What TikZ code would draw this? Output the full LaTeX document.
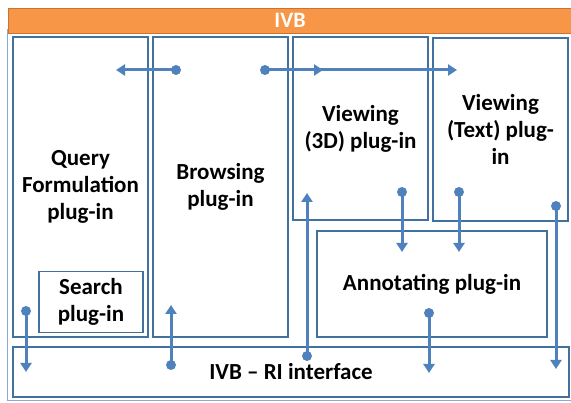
\documentclass[tikz,border=0pt]{standalone}
\usepackage{fontspec}
\setmainfont{Carlito}
\usetikzlibrary{arrows.meta}
\definecolor{ivbblue}{HTML}{4F81BD}
\definecolor{boxblue}{HTML}{41719C}
\definecolor{frameblue}{HTML}{8FAAD2}
\definecolor{ivborange}{HTML}{F79646}
\definecolor{ivbedge}{HTML}{C9732E}
\tikzset{
  plugbox/.style={draw=boxblue,line width=1.5pt,align=center,inner sep=0pt,
    font=\bfseries\fontsize{23}{27}\selectfont},
  flow/.style={ivbblue,line width=3pt,-{Triangle[width=11pt,length=9pt]}},
  dot/.style={circle,fill=ivbblue,inner sep=0pt,minimum size=10pt}
}
\begin{document}
\begin{tikzpicture}[x=1pt,y=-1pt]
  \useasboundingbox (0,0) rectangle (571,403);
  % frame and title bar
  \draw[frameblue,line width=1.5pt] (7.5,30) rectangle (585,400.5);
  \node[draw=ivbedge,fill=ivborange,line width=1.2pt,minimum width=590pt,minimum height=25pt,
    anchor=north west,inner sep=0pt] (bar) at (7.5,8) {};
  \node[text=white,font=\bfseries\fontsize{22}{26}\selectfont] (title) at (290,20.5) {IVB};
  % plug-ins
  \node[plugbox,minimum width=135pt,minimum height=300pt] (query) at (80.5,187) {Query\\Formulation\\plug-in};
  \node[plugbox,minimum width=135pt,minimum height=300pt] (browse) at (220.5,187) {Browsing\\plug-in};
  \node[plugbox,minimum width=135pt,minimum height=183pt] (view3d) at (360.5,128.5) {Viewing\\(3D) plug-in};
  \node[plugbox,minimum width=135pt,minimum height=183pt] (viewtxt) at (500.5,129.5) {Viewing\\(Text) plug-\\in};
  \node[plugbox,minimum width=104pt,minimum height=61pt] (search) at (91,302) {Search\\plug-in};
  \node[plugbox,minimum width=230pt,minimum height=106pt] (annot) at (432,284) {Annotating plug-in};
  \node[plugbox,minimum width=556pt,minimum height=50pt] (ri) at (291,372) {IVB -- RI interface};
  % dots
  \node[dot] (d1) at (176,70) {};
  \node[dot] (d2) at (265,70) {};
  \node[dot] (d3) at (26,311) {};
  \node[dot] (d4) at (171,365) {};
  \node[dot] (d5) at (307,356) {};
  \node[dot] (d6) at (402,192) {};
  \node[dot] (d7) at (459,192) {};
  \node[dot] (d8) at (556,206) {};
  \node[dot] (d9) at (429,313) {};
  % arrow ends
  \coordinate (t1) at (116,70);
  \coordinate (t2) at (323,70);
  \coordinate (t2b) at (457,70);
  \coordinate (t3) at (26,372);
  \coordinate (t4) at (171,305);
  \coordinate (t5) at (307,193);
  \coordinate (t6) at (402,252);
  \coordinate (t7) at (459,252);
  \coordinate (t8) at (556,369);
  \coordinate (t9) at (429,373);
  \draw[flow] (d1.center) -- (t1);
  \draw[flow] (d2.center) -- (t2);
  \draw[flow] (d2.center) -- (t2b);
  \draw[flow] (d3.center) -- (t3);
  \draw[flow] (d4.center) -- (t4);
  \draw[flow] (d5.center) -- (t5);
  \draw[flow] (d6.center) -- (t6);
  \draw[flow] (d7.center) -- (t7);
  \draw[flow] (d8.center) -- (t8);
  \draw[flow] (d9.center) -- (t9);
\end{tikzpicture}
\end{document}
